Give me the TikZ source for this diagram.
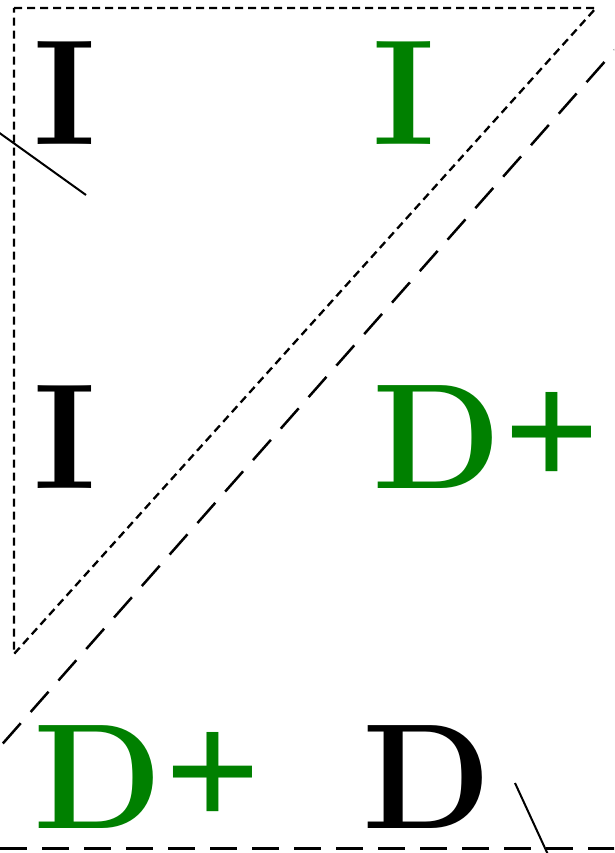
\documentclass[tikz,border=0pt]{standalone}
\newcommand\bigplus{{\font\plusfnt="Liberation Serif/B" at 170pt\plusfnt +}}
\begin{document}
\begin{tikzpicture}[x=1pt, y=-1pt, every node/.style={inner sep=0pt, anchor=base west, font=\bfseries\fontsize{150}{150}\selectfont}, good/.style={green!50!black}, short dash/.style={line width=2.3pt, dash pattern=on 8pt off 5pt}, long dash/.style={line width=2.5pt, dash pattern=on 27pt off 15pt}]
        \useasboundingbox (0,0) rectangle (614,853);
        \clip (0,0) rectangle (614,853);
        \node (i11) at (33, 145) {I};
        \node[good] (i12) at (372, 145) {I};
        \node (i21) at (33, 488) {I};
        \node[good] (d22) at (372, 488) {D\kern2pt\bigplus};
        \node[good] (d31) at (33, 828) {D\kern2pt\bigplus};
        \node (d32) at (362, 828) {D};
        \coordinate (tl) at (14, 8);
        \coordinate (tr) at (596, 8);
        \coordinate (bl) at (14, 654);
        \coordinate (ur) at (660, -1);
        \coordinate (ll) at (-40, 792);
        \coordinate (bw) at (0, 848.5);
        \coordinate (be) at (620, 848.5);
        \coordinate (cut1) at (-20, 119);
        \coordinate (cut2) at (86, 195);
        \coordinate (cut3) at (515, 783);
        \coordinate (cut4) at (556, 872);
        \draw[short dash, line join=round] (tl) -- (tr) -- (bl) -- cycle;
        \draw[long dash] (ur) -- (ll);
        \draw[long dash] (bw) -- (be);
        \draw[line width=2pt] (cut1) -- (cut2);
        \draw[line width=2pt] (cut3) -- (cut4);
    \end{tikzpicture}
\end{document}
